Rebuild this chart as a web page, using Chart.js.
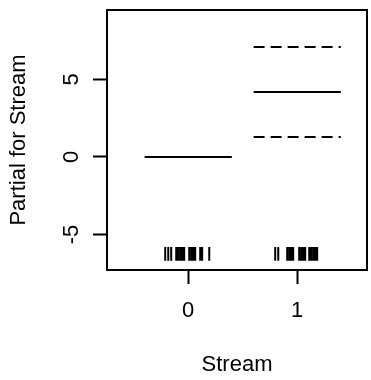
<!DOCTYPE html>
<html>
<head>
<meta charset="utf-8">
<script src="https://cdn.jsdelivr.net/npm/chart.js@4/dist/chart.umd.min.js"></script>
<style>
  html, body { margin: 0; padding: 0; background: #fff; }
  #wrap { width: 371px; height: 380px; }
</style>
</head>
<body>
<div id="wrap"><canvas id="termCanvas" width="371" height="380"></canvas></div>
<script>
// Stream levels and partial effects
const levels = [0, 1];
const partial = [0, 4.19];
const upperBand = [null, 7.09];
const lowerBand = [null, 1.29];
const halfWidth = 0.4;

// rug marks (jittered stream values) for each level
const rug = [
  -0.211, -0.183, -0.156, -0.110, -0.092, -0.073, -0.055, -0.037,
  0.009, 0.028, 0.046, 0.064, 0.110, 0.128, 0.193,
  0.798, 0.826, 0.908, 0.927, 0.945, 0.963, 1.018, 1.037, 1.055,
  1.073, 1.110, 1.128, 1.147, 1.165, 1.183,
];
const rugTop = -5.8;
const rugBottom = -6.7;

const xTicks = [0, 1];
const yTicks = [-5, 0, 5];
const xRange = [-0.745, 1.64];
const yRange = [-7.29, 9.48];

const FONT = "'Liberation Sans', Arial, sans-serif";

// build segment lists, separated by gaps
const segments = (vals) => {
  const pts = [];
  levels.forEach((lev, i) => {
    if (vals[i] === null) return;
    if (pts.length) pts.push({ x: lev - 0.5, y: null });
    pts.push({ x: lev - halfWidth, y: vals[i] });
    pts.push({ x: lev + halfWidth, y: vals[i] });
  });
  return pts;
};

const rugPoints = [];
rug.forEach((v, i) => {
  if (i > 0) rugPoints.push({ x: v, y: null });
  rugPoints.push({ x: v, y: rugTop });
  rugPoints.push({ x: v, y: rugBottom });
});

const lineStyle = {
  type: "line",
  borderColor: "#000",
  borderWidth: 2,
  pointRadius: 0,
  spanGaps: false,
  fill: false,
};

// draw the full box around the plotting area
const boxPlugin = {
  id: "box",
  afterDraw(chart) {
    const { ctx, chartArea } = chart;
    ctx.save();
    ctx.strokeStyle = "#000";
    ctx.lineWidth = 2;
    ctx.strokeRect(chartArea.left, chartArea.top, chartArea.right - chartArea.left, chartArea.bottom - chartArea.top);
    ctx.restore();
  },
};

new Chart(document.getElementById("termCanvas"), {
  type: "scatter",
  data: {
    datasets: [
      { ...lineStyle, data: segments(partial) },
      { ...lineStyle, data: segments(upperBand), borderDash: [11, 6] },
      { ...lineStyle, data: segments(lowerBand), borderDash: [11, 6] },
      { ...lineStyle, data: rugPoints, borderWidth: 2 },
    ],
  },
  options: {
    responsive: false,
    animation: false,
    layout: { padding: { top: 10, right: 4, left: 0, bottom: 0 } },
    plugins: { legend: { display: false }, tooltip: { enabled: false } },
    scales: {
      x: {
        type: "linear",
        min: xRange[0],
        max: xRange[1],
        afterBuildTicks: (scale) => { scale.ticks = xTicks.map((v) => ({ value: v })); },
        afterFit: (scale) => {
          scale.height = 110;
          scale.paddingLeft = 0;
          scale.paddingRight = 0;
        },
        grid: { drawOnChartArea: false, drawTicks: true, tickLength: 14, tickColor: "#000", tickWidth: 2 },
        border: { display: true, color: "#000", width: 2 },
        ticks: {
          color: "#000",
          font: { family: FONT, size: 22 },
          padding: 14,
          maxRotation: 0,
          callback: (v) => String(v),
        },
        title: {
          display: true,
          text: "Stream",
          color: "#000",
          font: { family: FONT, size: 22 },
          padding: { top: 0, bottom: 2 },
        },
      },
      y: {
        type: "linear",
        min: yRange[0],
        max: yRange[1],
        afterBuildTicks: (scale) => { scale.ticks = yTicks.map((v) => ({ value: v })); },
        afterFit: (scale) => {
          scale.width = 107;
          scale.paddingTop = 0;
          scale.paddingBottom = 0;
        },
        grid: { drawOnChartArea: false, drawTicks: true, tickLength: 14, tickColor: "#000", tickWidth: 2 },
        border: { display: true, color: "#000", width: 2 },
        ticks: {
          color: "#000",
          font: { family: FONT, size: 22 },
          padding: 11,
          minRotation: 90,
          maxRotation: 90,
          crossAlign: "center",
          callback: (v) => String(v),
        },
        title: {
          display: true,
          text: "Partial for Stream",
          color: "#000",
          font: { family: FONT, size: 22 },
          padding: { top: 6, bottom: 0 },
        },
      },
    },
  },
  plugins: [boxPlugin],
});
</script>
</body>
</html>
